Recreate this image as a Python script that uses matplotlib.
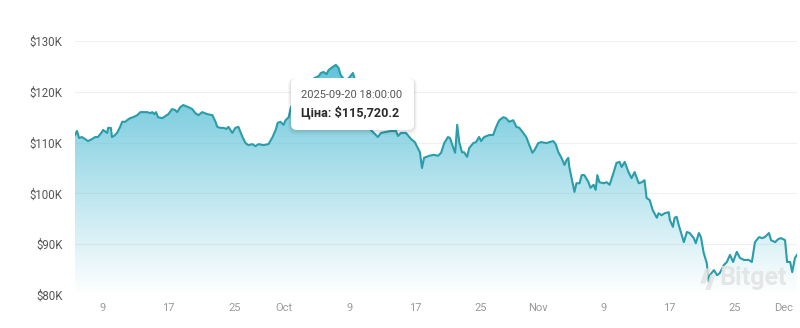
import numpy as np
import pandas as pd
import matplotlib
matplotlib.use('Agg')
import matplotlib.pyplot as plt
import matplotlib.dates as mdates
from matplotlib.colors import LinearSegmentedColormap
from matplotlib.patches import FancyBboxPatch, Polygon

plt.rcParams['font.family'] = ['Roboto', 'DejaVu Sans']

# ціна BTC, тис. $
times = [
    '2025-09-05 14:00', '2025-09-05 20:00', '2025-09-06 02:00', '2025-09-06 10:00', '2025-09-06 19:00',
    '2025-09-07 04:00', '2025-09-07 16:00', '2025-09-08 01:00', '2025-09-08 09:00', '2025-09-08 21:00',
    '2025-09-09 00:00', '2025-09-09 12:00', '2025-09-09 15:00', '2025-09-09 23:00', '2025-09-10 02:00',
    '2025-09-10 08:00', '2025-09-10 17:00', '2025-09-11 02:00', '2025-09-11 08:00', '2025-09-11 17:00',
    '2025-09-11 22:00', '2025-09-12 07:00', '2025-09-12 16:00', '2025-09-13 04:00', '2025-09-13 13:00',
    '2025-09-13 21:00', '2025-09-14 09:00', '2025-09-14 18:00', '2025-09-15 00:00', '2025-09-15 06:00',
    '2025-09-15 11:00', '2025-09-15 17:00', '2025-09-16 05:00', '2025-09-16 14:00', '2025-09-16 23:00',
    '2025-09-17 10:00', '2025-09-17 19:00', '2025-09-18 01:00', '2025-09-18 10:00', '2025-09-18 19:00',
    '2025-09-19 01:00', '2025-09-19 09:00', '2025-09-19 21:00', '2025-09-20 06:00', '2025-09-20 15:00',
    '2025-09-21 02:00', '2025-09-21 17:00', '2025-09-22 08:00', '2025-09-22 17:00', '2025-09-22 22:00',
    '2025-09-23 07:00', '2025-09-23 16:00', '2025-09-24 01:00', '2025-09-24 07:00', '2025-09-24 18:00',
    '2025-09-25 03:00', '2025-09-25 12:00', '2025-09-26 00:00', '2025-09-26 09:00', '2025-09-26 17:00',
    '2025-09-27 05:00', '2025-09-27 14:00', '2025-09-27 23:00', '2025-09-28 13:00', '2025-09-29 04:00',
    '2025-09-29 16:00', '2025-09-30 01:00', '2025-09-30 07:00', '2025-09-30 15:00', '2025-10-01 00:00',
    '2025-10-01 06:00', '2025-10-01 15:00', '2025-10-01 21:00', '2025-10-02 08:00', '2025-10-02 20:00',
    '2025-10-03 08:00', '2025-10-03 20:00', '2025-10-04 07:00', '2025-10-04 19:00', '2025-10-05 07:00',
    '2025-10-05 13:00', '2025-10-05 21:00', '2025-10-06 06:00', '2025-10-06 12:00', '2025-10-07 00:00',
    '2025-10-07 09:00', '2025-10-07 17:00', '2025-10-07 23:00', '2025-10-08 11:00', '2025-10-08 23:00',
    '2025-10-09 11:00', '2025-10-09 19:00', '2025-10-10 07:00', '2025-10-10 16:00', '2025-10-11 01:00',
    '2025-10-11 10:00', '2025-10-11 21:00', '2025-10-12 12:00', '2025-10-12 21:00', '2025-10-13 11:00',
    '2025-10-14 02:00', '2025-10-14 17:00', '2025-10-14 23:00', '2025-10-15 07:00', '2025-10-15 22:00',
    '2025-10-16 13:00', '2025-10-17 00:00', '2025-10-17 09:00', '2025-10-17 15:00', '2025-10-17 21:00',
    '2025-10-18 03:00', '2025-10-18 18:00', '2025-10-19 08:00', '2025-10-19 20:00', '2025-10-20 05:00',
    '2025-10-20 14:00', '2025-10-21 01:00', '2025-10-21 07:00', '2025-10-21 16:00', '2025-10-21 22:00',
    '2025-10-22 04:00', '2025-10-22 10:00', '2025-10-22 18:00', '2025-10-23 00:00', '2025-10-23 09:00',
    '2025-10-23 15:00', '2025-10-24 03:00', '2025-10-24 11:00', '2025-10-24 20:00', '2025-10-25 02:00',
    '2025-10-25 11:00', '2025-10-26 02:00', '2025-10-26 13:00', '2025-10-26 22:00', '2025-10-27 07:00',
    '2025-10-27 19:00', '2025-10-28 03:00', '2025-10-28 12:00', '2025-10-29 00:00', '2025-10-29 09:00',
    '2025-10-29 18:00', '2025-10-30 05:00', '2025-10-30 14:00', '2025-10-30 23:00', '2025-10-31 08:00',
    '2025-10-31 14:00', '2025-11-01 01:00', '2025-11-01 10:00', '2025-11-02 01:00', '2025-11-02 10:00',
    '2025-11-02 21:00', '2025-11-03 04:00', '2025-11-03 12:00', '2025-11-03 21:00', '2025-11-04 06:00',
    '2025-11-04 12:00', '2025-11-04 17:00', '2025-11-04 20:00', '2025-11-05 02:00', '2025-11-05 11:00',
    '2025-11-05 17:00', '2025-11-06 02:00', '2025-11-06 08:00', '2025-11-06 16:00', '2025-11-07 04:00',
    '2025-11-07 10:00', '2025-11-07 19:00', '2025-11-08 01:00', '2025-11-08 06:00', '2025-11-08 12:00',
    '2025-11-09 00:00', '2025-11-09 09:00', '2025-11-09 18:00', '2025-11-10 05:00', '2025-11-10 14:00',
    '2025-11-10 23:00', '2025-11-11 05:00', '2025-11-11 14:00', '2025-11-12 01:00', '2025-11-12 10:00',
    '2025-11-12 19:00', '2025-11-13 07:00', '2025-11-13 16:00', '2025-11-14 00:00', '2025-11-14 06:00',
    '2025-11-14 15:00', '2025-11-15 00:00', '2025-11-15 12:00', '2025-11-15 17:00', '2025-11-16 02:00',
    '2025-11-16 11:00', '2025-11-16 23:00', '2025-11-17 02:00', '2025-11-17 11:00', '2025-11-17 16:00',
    '2025-11-17 22:00', '2025-11-18 04:00', '2025-11-18 19:00', '2025-11-19 04:00', '2025-11-19 12:00',
    '2025-11-20 00:00', '2025-11-20 06:00', '2025-11-20 15:00', '2025-11-20 21:00', '2025-11-21 05:00',
    '2025-11-21 14:00', '2025-11-21 20:00', '2025-11-21 23:00', '2025-11-22 11:00', '2025-11-22 20:00',
    '2025-11-23 04:00', '2025-11-23 16:00', '2025-11-24 01:00', '2025-11-24 10:00', '2025-11-24 19:00',
    '2025-11-25 06:00', '2025-11-25 15:00', '2025-11-26 03:00', '2025-11-26 17:00', '2025-11-27 02:00',
    '2025-11-27 11:00', '2025-11-27 23:00', '2025-11-28 08:00', '2025-11-28 16:00', '2025-11-29 04:00',
    '2025-11-29 10:00', '2025-11-29 22:00', '2025-11-30 07:00', '2025-11-30 15:00', '2025-12-01 03:00',
    '2025-12-01 09:00', '2025-12-01 18:00', '2025-12-02 00:00', '2025-12-02 08:00', '2025-12-02 14:00',
]
prices = [
    111.5, 112.3, 110.9, 111.1, 110.7, 110.3, 110.7, 111.1, 111.1, 112.1,
    112.5, 111.9, 112.9, 112.9, 111.1, 111.3, 111.9, 113.1, 114.1, 114.1,
    114.4, 114.8, 115.0, 115.4, 116.0, 116.0, 116.0, 115.8, 116.0, 115.6,
    116.0, 115.0, 114.8, 115.2, 115.6, 116.6, 116.4, 116.0, 117.0, 117.4,
    117.2, 117.0, 116.6, 115.8, 115.4, 116.0, 115.6, 115.4, 114.1, 113.1,
    112.9, 112.9, 112.7, 113.1, 111.9, 112.9, 113.1, 111.1, 109.9, 109.5,
    109.7, 109.3, 109.7, 109.5, 109.7, 111.1, 112.5, 113.9, 114.1, 113.5,
    114.4, 115.0, 116.8, 118.4, 119.4, 120.4, 121.5, 122.3, 122.7, 123.1,
    123.7, 123.9, 123.5, 124.3, 124.9, 125.3, 124.7, 123.3, 122.3, 122.7,
    123.7, 121.9, 121.5, 120.4, 116.4, 112.9, 112.1, 111.1, 111.9, 112.1,
    112.3, 112.3, 111.3, 111.9, 111.9, 110.7, 110.1, 108.9, 108.1, 105.0,
    107.0, 107.4, 107.6, 107.4, 108.0, 109.9, 111.1, 110.9, 109.1, 108.0,
    113.5, 110.1, 108.1, 108.1, 107.2, 108.9, 109.9, 110.1, 111.1, 110.3,
    111.1, 111.5, 111.5, 113.1, 114.4, 115.0, 114.8, 114.1, 114.4, 113.1,
    112.9, 111.9, 111.1, 109.5, 108.0, 108.5, 109.9, 110.1, 109.9, 110.1,
    110.3, 109.7, 108.1, 107.0, 105.6, 106.6, 107.0, 105.2, 103.2, 100.3,
    102.0, 102.0, 103.6, 103.6, 102.2, 101.1, 101.7, 100.7, 103.6, 102.2,
    102.0, 102.2, 101.7, 104.0, 106.0, 106.2, 105.2, 106.2, 104.2, 103.0,
    104.2, 102.0, 102.2, 102.6, 99.1, 98.7, 96.7, 95.2, 96.1, 95.7,
    96.1, 96.3, 94.8, 93.4, 95.2, 95.4, 93.8, 90.4, 92.4, 92.2,
    91.2, 90.2, 92.2, 91.4, 88.3, 86.3, 82.6, 83.9, 84.9, 83.9,
    84.3, 85.9, 86.5, 87.9, 86.5, 88.5, 87.3, 86.9, 86.9, 86.5,
    90.4, 91.4, 91.2, 91.4, 92.2, 90.8, 90.4, 91.0, 91.2, 90.8,
    86.5, 86.5, 84.5, 87.3, 87.9,
]

tick_dates = ['2025-09-09', '2025-09-17', '2025-09-25', '2025-10-01', '2025-10-09', '2025-10-17',
              '2025-10-25', '2025-11-01', '2025-11-09', '2025-11-17', '2025-11-25', '2025-12-01']
tick_labels = ['9', '17', '25', 'Oct', '9', '17', '25', 'Nov', '9', '17', '25', 'Dec']
y_ticks = [80, 90, 100, 110, 120, 130]

t = pd.to_datetime(times)
p = np.array(prices)
tn = mdates.date2num(t)

fig = plt.figure(figsize=(8, 3.28), dpi=100)
ax = fig.add_axes([75 / 800, 33 / 328, 722 / 800, 254 / 328])

# градієнтна заливка під лінією
poly = ax.fill_between(tn, p, 80, color='none', lw=0)
cmap = LinearSegmentedColormap.from_list(
    'g', [(0.33, 0.75, 0.84, 0.0), (0.33, 0.75, 0.84, 0.45), (0.30, 0.73, 0.83, 0.88)])
grad = np.linspace(0, 1, 256).reshape(-1, 1)
im = ax.imshow(grad, cmap=cmap, origin='lower', aspect='auto',
               extent=[tn[0], tn[-1], 80, p.max()], zorder=1)
im.set_clip_path(poly.get_paths()[0], transform=ax.transData)

ax.plot(tn, p, color='#2a9dab', lw=1.5, zorder=3, solid_joinstyle='round')

ax.set_xlim(tn[0], tn[-1])
ax.set_ylim(80, 130)
ax.set_yticks(y_ticks)
ax.set_yticklabels([f'${v}K' for v in y_ticks])
ax.set_xticks(mdates.date2num(pd.to_datetime(tick_dates)))
ax.set_xticklabels(tick_labels)
ax.grid(axis='y', color='#f0f0f0', lw=0.8, zorder=0)
ax.set_axisbelow(True)
for s in ax.spines.values():
    s.set_visible(False)
ax.tick_params(axis='y', length=0, pad=9, labelsize=8.3, labelcolor='#555555')
ax.tick_params(axis='x', length=0, pad=6, labelsize=8, labelcolor='#9a9a9a')

# водяний знак Bitget
wm = '#e2e2e2'
ax.add_patch(Polygon([(0.873, 0.105), (0.881, 0.105), (0.873, 0.045), (0.866, 0.045)],
                     closed=True, transform=ax.transAxes, fc=wm, ec='none', alpha=0.85, zorder=4))
ax.add_patch(Polygon([(0.880, 0.08), (0.887, 0.08), (0.880, 0.02), (0.873, 0.02)],
                     closed=True, transform=ax.transAxes, fc=wm, ec='none', alpha=0.85, zorder=4))
ax.text(0.893, 0.068, 'Bitget', transform=ax.transAxes, fontsize=18, fontweight='bold',
        color=wm, alpha=0.85, ha='left', va='center', zorder=4)

# підказка
bx0, bx1 = (291 - 75) / 722, (414 - 75) / 722
by0, by1 = (295 - 130) / 254, (295 - 78) / 254
for i, a in enumerate([0.03, 0.04, 0.05]):
    d = (3 - i) * 0.004
    ax.add_patch(FancyBboxPatch((bx0 - d * 0.35, by0 - d * 1.6), bx1 - bx0 + d * 0.7, by1 - by0 + d * 1.6,
                                boxstyle='round,pad=0,rounding_size=0.01', transform=ax.transAxes,
                                fc='black', ec='none', alpha=a, zorder=5, mutation_aspect=2.8))
ax.add_patch(FancyBboxPatch((bx0, by0), bx1 - bx0, by1 - by0,
                            boxstyle='round,pad=0,rounding_size=0.008', transform=ax.transAxes,
                            fc='white', ec='none', zorder=6, mutation_aspect=2.8))
ax.text((301 - 75) / 722, (295 - 95) / 254, '2025-09-20 18:00:00', transform=ax.transAxes,
        fontsize=7.9, color='#555555', ha='left', va='center', zorder=7)
ax.text((301 - 75) / 722, (295 - 113) / 254, 'Ціна: $115,720.2', transform=ax.transAxes,
        fontsize=9.1, fontweight='bold', color='#2b2b2b', ha='left', va='center', zorder=7)

fig.savefig('out.png', dpi=100)
